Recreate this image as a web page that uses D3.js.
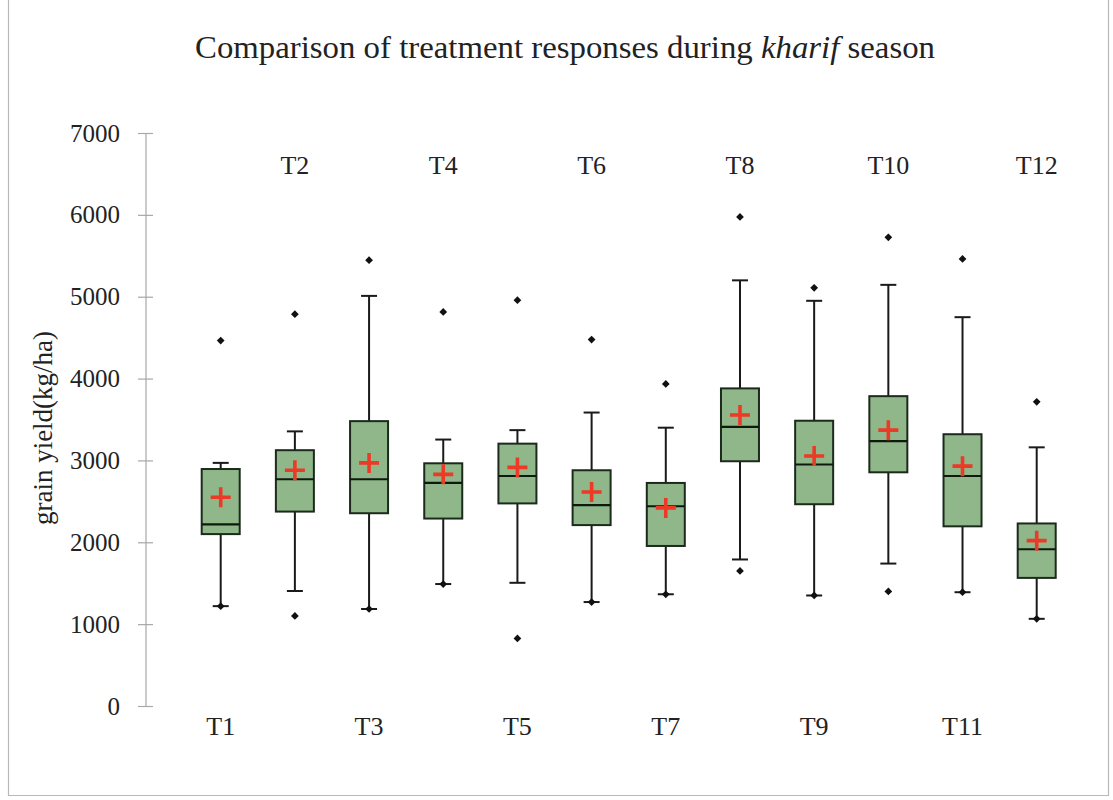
<!DOCTYPE html>
<html>
<head>
<meta charset="utf-8">
<script src="https://cdn.jsdelivr.net/npm/d3@7"></script>
<style>
  html, body { margin: 0; padding: 0; background: #fff; }
  svg { display: block; }
</style>
</head>
<body>
<svg id="chart" width="1113" height="800"></svg>
<script>
// Treatment labels
const categories = ["T1","T2","T3","T4","T5","T6","T7","T8","T9","T10","T11","T12"];

// Box-plot statistics for grain yield (kg/ha)
const whiskerLow  = [1220, 1405, 1185, 1490, 1505, 1270, 1365, 1790, 1350, 1740, 1390, 1065];
const q1          = [2100, 2375, 2355, 2290, 2475, 2210, 1955, 2990, 2465, 2855, 2195, 1565];
const median      = [2220, 2770, 2770, 2725, 2810, 2455, 2440, 3410, 2950, 3235, 2810, 1915];
const q3          = [2895, 3125, 3480, 2965, 3205, 2880, 2725, 3880, 3485, 3785, 3320, 2230];
const whiskerHigh = [2970, 3355, 5010, 3255, 3370, 3585, 3400, 5200, 4950, 5145, 4750, 3160];
const means       = [2550, 2880, 2970, 2830, 2915, 2615, 2420, 3555, 3055, 3370, 2930, 2020];
// Minimum and maximum observations of each treatment
const minimums    = [1220, 1100, 1185, 1490,  825, 1270, 1365, 1650, 1350, 1400, 1390, 1065];
const maximums    = [4465, 4786, 5446, 4814, 4957, 4477, 3935, 5975, 5108, 5726, 5462, 3716];

const yTicks = [0, 1000, 2000, 3000, 4000, 5000, 6000, 7000];

const SERIF = "'Liberation Serif', 'Times New Roman', serif";
const svg = d3.select("#chart").attr("font-family", SERIF);

// Outer frame
svg.append("path")
  .attr("d", "M8.5,0 V795.5 H1108.5 V0")
  .attr("fill", "none")
  .attr("stroke", "#b8b8b8")
  .attr("stroke-width", 1.2);

const y = d3.scaleLinear().domain([0, 7000]).range([706, 133]);
const x = d3.scalePoint().domain(categories).range([220.7, 1036.7]);

const axisX = 146;
const yAxis = svg.append("g")
  .attr("transform", `translate(${axisX},0)`)
  .call(d3.axisLeft(y).tickValues(yTicks).tickSize(8).tickPadding(18).tickFormat(d3.format("d")));
yAxis.attr("font-family", SERIF).attr("font-size", 25);
yAxis.select(".domain").attr("stroke", "#a8a8a8").attr("stroke-width", 1.2)
  .attr("d", `M0,${y(7000)}V${y(0)}`);
yAxis.selectAll(".tick line").attr("stroke", "#a8a8a8").attr("stroke-width", 1.2).attr("x1", 7).attr("x2", -8);
yAxis.selectAll(".tick text").attr("fill", "#222");

// Title
const title = svg.append("text")
  .attr("x", 565).attr("y", 58)
  .attr("text-anchor", "middle")
  .attr("fill", "#222")
  .attr("font-family", SERIF)
  .attr("font-size", 31)
  .attr("textLength", 740)
  .attr("lengthAdjust", "spacingAndGlyphs");
title.append("tspan").text("Comparison of treatment responses during ");
title.append("tspan").attr("font-style", "italic").text("kharif");
title.append("tspan").text(" season");

// Y-axis title
svg.append("text")
  .attr("transform", "translate(52,428) rotate(-90)")
  .attr("text-anchor", "middle")
  .attr("fill", "#222")
  .attr("font-family", SERIF)
  .attr("font-size", 27)
  .text("grain yield(kg/ha)");

// Treatment labels alternate below and above the plot
svg.selectAll("text.cat")
  .data(categories)
  .join("text")
  .attr("class", "cat")
  .attr("x", d => x(d))
  .attr("y", (d, i) => i % 2 === 0 ? 735 : 174)
  .attr("text-anchor", "middle")
  .attr("fill", "#222")
  .attr("font-family", SERIF)
  .attr("font-size", 26)
  .text(d => d);

const boxW = 38, capW = 16;
const stats = categories.map((c, i) => ({
  c, lo: whiskerLow[i], q1: q1[i], med: median[i], q3: q3[i], hi: whiskerHigh[i],
  mean: means[i], min: minimums[i], max: maximums[i]
}));

const g = svg.append("g").selectAll("g.box").data(stats).join("g").attr("class", "box");
const ink = "#1a1a1a";

// Whiskers
g.append("line")
  .attr("x1", d => x(d.c)).attr("x2", d => x(d.c))
  .attr("y1", d => y(d.hi)).attr("y2", d => y(d.q3))
  .attr("stroke", ink).attr("stroke-width", 2);
g.append("line")
  .attr("x1", d => x(d.c)).attr("x2", d => x(d.c))
  .attr("y1", d => y(d.q1)).attr("y2", d => y(d.lo))
  .attr("stroke", ink).attr("stroke-width", 2);
// Whisker caps
g.append("line")
  .attr("x1", d => x(d.c) - capW / 2).attr("x2", d => x(d.c) + capW / 2)
  .attr("y1", d => y(d.hi)).attr("y2", d => y(d.hi))
  .attr("stroke", ink).attr("stroke-width", 2);
g.append("line")
  .attr("x1", d => x(d.c) - capW / 2).attr("x2", d => x(d.c) + capW / 2)
  .attr("y1", d => y(d.lo)).attr("y2", d => y(d.lo))
  .attr("stroke", ink).attr("stroke-width", 2);

// Boxes
g.append("rect")
  .attr("x", d => x(d.c) - boxW / 2)
  .attr("width", boxW)
  .attr("y", d => y(d.q3))
  .attr("height", d => y(d.q1) - y(d.q3))
  .attr("fill", "#8fb78a")
  .attr("stroke", "#1c2a1c")
  .attr("stroke-width", 2);

// Medians
g.append("line")
  .attr("x1", d => x(d.c) - boxW / 2).attr("x2", d => x(d.c) + boxW / 2)
  .attr("y1", d => y(d.med)).attr("y2", d => y(d.med))
  .attr("stroke", "#0f1a0f").attr("stroke-width", 2.2);

// Means as red crosses
const arm = 10;
g.append("path")
  .attr("d", d => `M${x(d.c) - arm},${y(d.mean)}H${x(d.c) + arm}M${x(d.c)},${y(d.mean) - arm}V${y(d.mean) + arm}`)
  .attr("stroke", "#ec3a26").attr("stroke-width", 3.6).attr("fill", "none");

// Minimum and maximum observations as diamonds
const diamond = d3.symbol().type(d3.symbolSquare).size(30);
g.selectAll("path.pt")
  .data(d => [{c: d.c, v: d.min}, {c: d.c, v: d.max}])
  .join("path")
  .attr("class", "pt")
  .attr("d", diamond)
  .attr("transform", d => `translate(${x(d.c)},${y(d.v)}) rotate(45)`)
  .attr("fill", "#111");
</script>
</body>
</html>
